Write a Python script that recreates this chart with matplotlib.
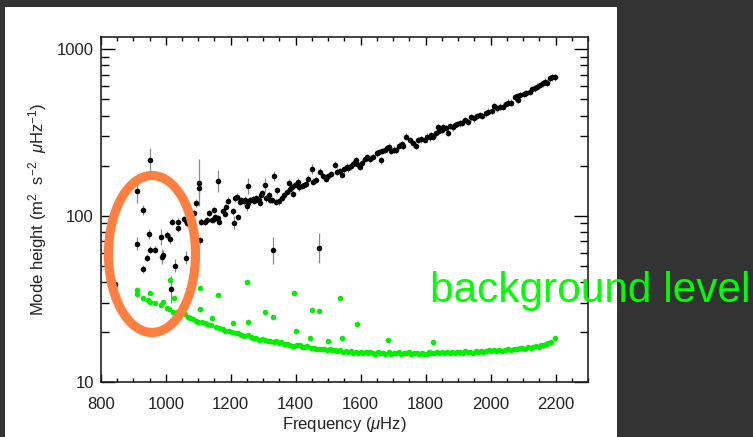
import matplotlib
matplotlib.use("Agg")
import numpy as np
import matplotlib.pyplot as plt
from matplotlib.patches import Ellipse, Rectangle
from matplotlib.ticker import MultipleLocator, FixedLocator, NullFormatter, FuncFormatter, LogLocator

plt.rcParams["font.family"] = ["Liberation Sans", "DejaVu Sans"]
plt.rcParams["mathtext.fontset"] = "custom"
plt.rcParams["mathtext.rm"] = "Liberation Sans"
plt.rcParams["mathtext.it"] = "Liberation Sans:italic"

# Fitted mode heights (frequency in muHz, height, 1-sigma error in dex)
mode_freq = [845, 911, 912, 931, 931, 942, 949, 952, 953, 968, 986, 988, 992, 1004, 1013,
             1015, 1018, 1027, 1037, 1039, 1057, 1061, 1062, 1066, 1088, 1093, 1102, 1103,
             1105, 1107, 1121, 1128, 1134, 1143, 1148, 1150, 1152, 1160, 1161, 1165, 1175,
             1182, 1187, 1192, 1208, 1210, 1214, 1218, 1221, 1228, 1233, 1241, 1244, 1251,
             1252, 1254, 1258, 1269, 1271, 1277, 1285, 1288, 1290, 1294, 1297, 1305, 1310,
             1318, 1321, 1326, 1329, 1333, 1339, 1341, 1349, 1357, 1365, 1372, 1380, 1384,
             1390, 1392, 1398, 1406, 1410, 1419, 1426, 1433, 1438, 1449, 1454, 1464, 1471,
             1475, 1483, 1493, 1500, 1510, 1521, 1526, 1536, 1542, 1549, 1557, 1562, 1570,
             1577, 1582, 1587, 1590, 1598, 1603, 1613, 1621, 1628, 1637, 1651, 1657, 1664,
             1667, 1674, 1680, 1688, 1695, 1702, 1710, 1719, 1726, 1731, 1739, 1751, 1762,
             1770, 1777, 1787, 1797, 1805, 1813, 1818, 1823, 1831, 1838, 1842, 1849, 1854,
             1864, 1869, 1874, 1883, 1890, 1897, 1905, 1913, 1921, 1931, 1941, 1948, 1957,
             1967, 1975, 1985, 1992, 2003, 2010, 2020, 2028, 2038, 2047, 2054, 2064, 2074,
             2082, 2085, 2092, 2102, 2110, 2121, 2129, 2136, 2143, 2151, 2160, 2167, 2174,
             2182, 2190, 2198]
mode_height = [39, 68, 141, 108, 48, 56, 78, 216, 62.5, 62.5, 74.5, 56.5, 58, 76.5, 72,
               36, 92, 50, 92, 84, 95, 56, 94, 90, 104, 119, 146, 158,
               71, 92, 92, 94, 104, 94, 95, 108, 98, 162, 97, 92, 106,
               103, 113, 123, 106, 91, 127, 130, 98, 121, 124, 122, 125, 114,
               151, 119, 124, 126, 123, 128, 125, 124, 120, 134, 137, 153, 127,
               133, 124, 124, 62, 174, 121, 142, 122, 128, 133, 139, 158, 144,
               148, 135, 153, 160, 148, 151, 153, 155, 167, 190, 160, 164, 64,
               184, 173, 166, 173, 178, 203, 184, 186, 176, 190, 197, 193, 198,
               204, 210, 215, 204, 197, 208, 220, 224, 220, 225, 237, 242, 215,
               245, 248, 254, 260, 245, 250, 248, 264, 268, 262, 298, 285, 272,
               262, 285, 288, 285, 299, 296, 306, 299, 313, 340, 324, 327, 340,
               336, 316, 346, 340, 351, 356, 359, 363, 376, 367, 391, 385, 398,
               403, 398, 413, 422, 428, 457, 442, 452, 452, 470, 478, 478, 515,
               525, 497, 532, 540, 545, 557, 576, 584, 597, 611, 625, 640, 631,
               670, 680, 680]
mode_err = [0.03, 0.04, 0.07, 0.03, 0.025, 0.02, 0.03, 0.07, 0.02, 0.02, 0.05, 0.045, 0.03, 0.025, 0.03,
            0.08, 0.02, 0.04, 0.02, 0.02, 0.02, 0.04, 0.02, 0.02, 0.02, 0.025, 0.03, 0.14,
            0.02, 0.02, 0.02, 0.02, 0.02, 0.02, 0.02, 0.02, 0.02, 0.065, 0.02, 0.02, 0.02,
            0.02, 0.02, 0.02, 0.02, 0.04, 0.02, 0.02, 0.02, 0.02, 0.02, 0.02, 0.02, 0.03,
            0.05, 0.02, 0.02, 0.02, 0.02, 0.02, 0.02, 0.02, 0.02, 0.02, 0.02, 0.04, 0.02,
            0.02, 0.02, 0.02, 0.08, 0.03, 0.02, 0.02, 0.02, 0.02, 0.02, 0.02, 0.02, 0.02,
            0.02, 0.02, 0.02, 0.02, 0.02, 0.02, 0.02, 0.02, 0.02, 0.03, 0.02, 0.02, 0.09,
            0.02, 0.02, 0.02, 0.02, 0.02, 0.02, 0.02, 0.02, 0.02, 0.02, 0.02, 0.02, 0.02,
            0.02, 0.02, 0.02, 0.02, 0.02, 0.02, 0.02, 0.02, 0.02, 0.02, 0.02, 0.02, 0.02,
            0.02, 0.02, 0.02, 0.02, 0.02, 0.02, 0.02, 0.02, 0.02, 0.02, 0.02, 0.02, 0.02,
            0.02, 0.02, 0.02, 0.02, 0.02, 0.02, 0.02, 0.02, 0.02, 0.02, 0.02, 0.02, 0.02,
            0.02, 0.02, 0.02, 0.02, 0.02, 0.02, 0.02, 0.02, 0.02, 0.02, 0.02, 0.02, 0.02,
            0.02, 0.02, 0.02, 0.02, 0.02, 0.02, 0.02, 0.02, 0.02, 0.02, 0.02, 0.02, 0.02,
            0.02, 0.02, 0.02, 0.02, 0.02, 0.02, 0.02, 0.02, 0.02, 0.02, 0.02, 0.02, 0.02,
            0.02, 0.02, 0.02]

# Background level at each mode frequency
bg_freq = [844, 911, 911, 930, 944, 951, 953, 967, 984, 990, 1003, 1010, 1014, 1021, 1026,
           1034, 1049, 1059, 1067, 1075, 1085, 1092, 1100, 1105, 1105, 1112, 1120, 1128,
           1138, 1143, 1155, 1162, 1165, 1175, 1183, 1195, 1205, 1208, 1215, 1222, 1232,
           1240, 1249, 1252, 1254, 1262, 1270, 1278, 1286, 1295, 1305, 1305, 1314, 1322,
           1329, 1332, 1340, 1348, 1356, 1364, 1372, 1380, 1388, 1394, 1396, 1400, 1404,
           1412, 1420, 1428, 1436, 1444, 1448, 1451, 1456, 1464, 1471, 1472, 1480, 1488,
           1496, 1500, 1505, 1513, 1520, 1528, 1536, 1537, 1544, 1546, 1554, 1561, 1569,
           1577, 1585, 1590, 1593, 1600, 1608, 1615, 1622, 1630, 1638, 1645, 1652, 1660,
           1668, 1675, 1685, 1688, 1695, 1702, 1710, 1718, 1725, 1733, 1740, 1748, 1756,
           1764, 1772, 1780, 1788, 1795, 1803, 1810, 1818, 1823, 1826, 1834, 1842, 1850,
           1858, 1866, 1874, 1882, 1890, 1898, 1906, 1914, 1922, 1930, 1938, 1946, 1954,
           1962, 1970, 1978, 1986, 1994, 2002, 2010, 2018, 2026, 2035, 2045, 2055, 2063,
           2072, 2080, 2090, 2098, 2106, 2115, 2123, 2132, 2140, 2148, 2156, 2165, 2172,
           2178, 2186, 2198]
bg_level = [38.5, 35.7, 33.6, 32.1, 31.1, 30.4, 34.4, 30.0, 29.0, 30.4, 27.7, 27.4, 41.0, 26.5, 31.8,
            26.5, 26.1, 25.6, 24.7, 24.4, 24.0, 23.4, 23.0, 36.6, 27.4, 22.8, 22.6, 22.2,
            22.0, 24.2, 21.5, 33.3, 21.2, 20.8, 20.4, 20.3, 20.0, 22.5, 19.7, 19.6, 19.3,
            19.0, 40.1, 19.1, 23.0, 18.7, 18.5, 18.3, 18.0, 18.2, 26.5, 17.9, 17.7, 17.6,
            24.7, 17.4, 17.6, 17.1, 17.3, 16.9, 16.9, 16.7, 16.5, 34.1, 16.5, 20.3, 16.8,
            16.6, 16.3, 16.2, 16.4, 18.3, 16.1, 27.1, 16.0, 15.9, 26.9, 15.9, 15.8, 15.9,
            15.6, 17.7, 15.7, 15.5, 15.6, 15.3, 32.1, 15.5, 18.3, 15.2, 15.4, 15.1, 15.3,
            15.0, 15.2, 22.4, 14.9, 15.1, 14.9, 15.1, 14.9, 15.2, 15.0, 14.8, 15.1, 14.9,
            15.0, 14.8, 18.0, 15.1, 14.8, 15.0, 14.9, 15.1, 14.8, 15.0, 14.9, 15.1, 14.8,
            15.0, 14.9, 14.7, 15.0, 14.8, 14.7, 15.1, 14.9, 17.5, 15.0, 15.1, 14.9, 15.2,
            15.0, 15.1, 14.9, 15.2, 15.0, 15.1, 15.2, 15.0, 15.3, 15.1, 15.2, 15.0, 15.3,
            15.1, 15.4, 15.2, 15.3, 15.6, 15.3, 15.5, 15.4, 15.6, 15.3, 15.5, 15.7, 15.5,
            15.9, 15.7, 16.0, 16.1, 15.9, 16.2, 16.1, 16.3, 16.4, 16.3, 16.6, 16.7, 16.9,
            17.1, 17.4, 18.4]

x_ticks = [800, 1000, 1200, 1400, 1600, 1800, 2000, 2200]
y_ticks = [10, 100, 1000]

W, H = 753, 437
fig = plt.figure(figsize=(W / 100, H / 100), dpi=100, facecolor="#333333")
# white slide panel
fig.add_artist(Rectangle((5 / W, 0), 612 / W, 430 / H, transform=fig.transFigure,
                         facecolor="white", edgecolor="none", zorder=-10))

ax = fig.add_axes([100.8 / W, 55 / H, 487.2 / W, 345 / H])
ax.set_facecolor("white")

h = np.array(mode_height, dtype=float)
e = np.array(mode_err, dtype=float)
lo = h - h * 10 ** (-e)
hi = h * 10 ** e - h

ax.plot(bg_freq, bg_level, "o", ms=4, color="#00f000", mec="none", zorder=2)
ax.errorbar(mode_freq, h, yerr=[lo, hi], fmt="o", ms=4, color="black", mec="none",
            ecolor="#8a8a8a", elinewidth=0.9, capsize=0, zorder=3)

ax.set_yscale("log")
ax.set_xlim(800, 2300)
ax.set_ylim(10, 1187)

ax.xaxis.set_major_locator(FixedLocator(x_ticks))
ax.xaxis.set_minor_locator(MultipleLocator(50))
ax.yaxis.set_major_locator(FixedLocator(y_ticks))
ax.yaxis.set_minor_locator(LogLocator(base=10, subs=range(2, 10)))
ax.yaxis.set_major_formatter(FuncFormatter(lambda v, p: f"{v:g}"))
ax.yaxis.set_minor_formatter(NullFormatter())

txt_col = "#222222"
ax.tick_params(which="both", direction="in", top=True, right=True, colors="black",
               labelcolor=txt_col, labelsize=12)
ax.tick_params(axis="x", which="major", length=6, width=1, pad=11)
ax.tick_params(axis="x", which="minor", length=3, width=1)
ax.tick_params(axis="y", which="major", length=10, width=1, pad=5)
ax.tick_params(axis="y", which="minor", length=5.5, width=1)
for s in ax.spines.values():
    s.set_linewidth(1.2)
    s.set_color("#222222")

ax.set_xlabel(r"Frequency ($\mu$Hz)", fontsize=12, color=txt_col, labelpad=2)
ax.set_ylabel(r"Mode height (m$^2$  s$^{-2}$  $\mu$Hz$^{-1}$)", fontsize=12,
              color=txt_col, labelpad=5.5)

# highlight of the low-frequency modes
fig.add_artist(Ellipse((152 / W, 1 - 254 / H), 87 / W, 157 / H, transform=fig.transFigure,
                       facecolor="none", edgecolor="#ff7f40", linewidth=6.6, zorder=5))

fig.text(430 / W, 1 - 302 / H, "background level", fontsize=30.5, color="#00ff00",
         ha="left", va="baseline", zorder=6)

fig.savefig("out.png", dpi=100, facecolor=fig.get_facecolor())
